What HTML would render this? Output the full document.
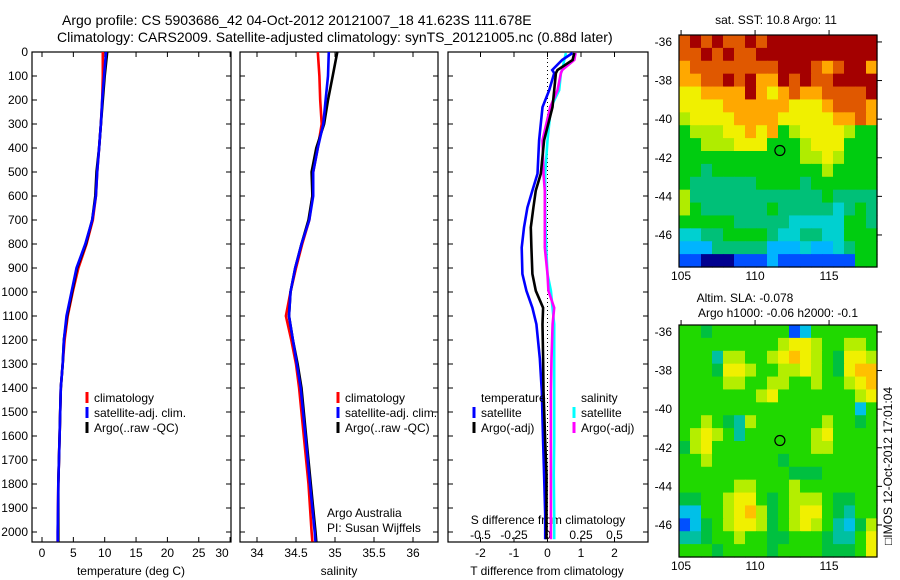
<!DOCTYPE html>
<html><head><meta charset="utf-8">
<style>
html,body{margin:0;padding:0;background:#fff;}
svg{display:block;font-family:"Liberation Sans",sans-serif;}
text{font-size:12px;fill:#000;}
</style></head>
<body>
<svg id="chart" width="900" height="580" viewBox="0 0 900 580" xmlns="http://www.w3.org/2000/svg">
<text x="62" y="25" text-anchor="start" style="font-size:14px">Argo profile: CS 5903686_42 04-Oct-2012 20121007_18 41.623S 111.678E</text>
<text x="57" y="42" text-anchor="start" style="font-size:14px">Climatology: CARS2009. Satellite-adjusted climatology: synTS_20121005.nc (0.88d later)</text>
<g id="g"></g>
</svg>
<script>
// ---- profile data ----
const depthLevels = [0,100,200,300,400,500,600,700,800,900,1000,1100,1200,1300,1400,1600,1800,2000,2040];
const tempClim = [9.7,9.7,9.6,9.4,9.1,8.8,8.6,8.1,7.1,5.8,4.9,4.1,3.6,3.3,3.0,2.8,2.6,2.5,2.5];
const tempSat  = [10.2,9.9,9.6,9.4,9.1,8.8,8.6,8.0,6.9,5.5,4.7,3.9,3.5,3.3,3.0,2.8,2.6,2.5,2.5];
const tempArgo = [10.4,10.0,9.7,9.4,9.1,8.7,8.5,8.0,7.0,5.6,4.8,4.0,3.5,3.3,3.0,2.8,2.6,2.6,2.6];
const salClim = [34.78,34.80,34.81,34.83,34.78,34.72,34.71,34.67,34.58,34.50,34.43,34.37,34.44,34.50,34.54,34.60,34.66,34.70,34.71];
const salSat  = [34.92,34.91,34.88,34.85,34.78,34.72,34.72,34.67,34.57,34.49,34.43,34.41,34.46,34.51,34.56,34.62,34.68,34.74,34.75];
const salArgo = [35.03,34.97,34.91,34.86,34.76,34.70,34.71,34.66,34.57,34.49,34.43,34.41,34.46,34.52,34.57,34.63,34.69,34.75,34.76];
const diffDepth = [4,33,75,88,159,230,368,507,577,648,731,815,925,995,1066,1134,1276,1414,1623,1762,1929,2030];
const tDiffSat  = [0.75,0.44,0.14,0.2,0.05,-0.15,-0.25,-0.3,-0.45,-0.6,-0.7,-0.77,-0.75,-0.63,-0.45,-0.33,-0.23,-0.17,-0.13,-0.1,-0.07,-0.07];
const tDiffArgo = [0.8,0.75,0.3,0.25,0.2,0.15,-0.1,-0.2,-0.35,-0.42,-0.5,-0.48,-0.45,-0.35,-0.13,-0.15,-0.13,-0.12,-0.07,-0.03,-0.03,-0.03];
const sDiffSat  = [0.137,0.125,0.11,0.1,0.087,0.025,0,-0.017,-0.017,-0.017,-0.015,-0.01,0.0,0.025,0.037,0.05,0.05,0.05,0.05,0.047,0.05,0.05];
const sDiffArgo = [0.21,0.2,0.11,0.1,0.075,0.02,-0.037,-0.03,-0.02,-0.02,-0.02,-0.02,0.0,0.007,0.05,0.038,0.03,0.025,0.025,0.025,0.025,0.025];
const depthTicks = [0,100,200,300,400,500,600,700,800,900,1000,1100,1200,1300,1400,1500,1600,1700,1800,1900,2000];
const tempTicks = [0,5,10,15,20,25,30];
const salTicks = [34,34.5,35,35.5,36];
const tDiffTicks = [-2,-1,0,1,2];
const sDiffTickLabels = ["-0.5","-0.25","0","0.25","0.5"];
const sDiffTicks = [-0.5,-0.25,0,0.25,0.5];
// ---- map data (digit codes) ----
const sstGrid = ["9a9a99a9aaaaaaaaaa","99a9a99aaaaaaaaaaa","899999999aaa989aa8","8899a9a88a9a99aaaa","778888a8789889999a","777788888877789998","677778888777778898","566677878567777655","556667775556777555","555555555556676555","554555555555565555","544444455554555555","644444444444454444","654444445444443454","555554444433333554","334455554334433555","222444442223223455","110001112111111155"];
const slaGrid = ["554555555512555555","555555555677655665","555366556787654776","555477655667654788","555566556655655678","555555567555555567","555555555555555525","556543655555565545","567653555555675555","467555555555665555","556555555455555555","555555555544455555","555556655565555555","445567754566654455","225567864567754355","124567764567653246","334556554455543357","555455554555544457"];
const lonTicks = [105,110,115];
const latTicks = [-36,-38,-40,-42,-44,-46];
const argoLon = 111.678, argoLat = -41.623;

const NS="http://www.w3.org/2000/svg";
const G=document.getElementById('g');
function mk(tag,attrs,parent){const e=document.createElementNS(NS,tag);for(const k in attrs)e.setAttribute(k,attrs[k]);(parent||G).appendChild(e);return e;}
function txt(x,y,s,anchor,parent){const t=mk('text',{x:x,y:y,'text-anchor':anchor||'middle'},parent);t.textContent=s;return t;}

const Y0=52, YS=0.24, PT=52, PB=542;
const yD=d=>Y0+d*YS;
const panels=[
 {name:'temperature-panel',x0:32,x1:231,fx:v=>42+v*6.27},
 {name:'salinity-panel',x0:240,x1:438,fx:v=>257+(v-34)*78},
 {name:'difference-panel',x0:448,x1:648,fx:v=>547.5+v*33.5}
];
const fS=v=>547.5+v*134;

panels.forEach((p,i)=>{
  const g=mk('g',{});
  
  
  const r=mk('rect',{x:p.x0,y:PT,width:p.x1-p.x0,height:PB-PT,fill:'#fff',stroke:'#000','stroke-width':1.2},g);
  
  
  depthTicks.forEach(d=>{
    const y=yD(d);
    mk('line',{x1:p.x0,x2:p.x0+5,y1:y,y2:y,stroke:'#000'},g);
    mk('line',{x1:p.x1-5,x2:p.x1,y1:y,y2:y,stroke:'#000'},g);
  });
});
depthTicks.forEach(d=>{const t=txt(28,yD(d)+4,String(d),'end');

});
function xticks(p,ticks,labels,shiftLast){
  ticks.forEach((v,k)=>{const x=p.fx(v);
    mk('line',{x1:x,x2:x,y1:PT,y2:PT+5,stroke:'#000'});
    mk('line',{x1:x,x2:x,y1:PB-5,y2:PB,stroke:'#000'});
    let lx=x; if(shiftLast&&k===ticks.length-1)lx=Math.min(x,p.x1-9);
    const t=txt(lx,557,labels[k]);
    
    
  });
}
xticks(panels[0],tempTicks,tempTicks.map(String),true);
xticks(panels[1],salTicks,salTicks.map(String),true);
xticks(panels[2],tDiffTicks,tDiffTicks.map(String),false);
let t;
t=txt(131,575,'temperature (deg C)');
t=txt(339,575,'salinity');
t=txt(547,575,'T difference from climatology');
t=txt(548,524,'S difference from climatology');
sDiffTicks.forEach((v,k)=>{const tt=txt(fS(v),539,sDiffTickLabels[k]);

});

const z=mk('line',{x1:fS(0),x2:fS(0),y1:PT+2,y2:PB,stroke:'#000','stroke-dasharray':'1,3'});



function series(vals,depths,fx,color,name){
  const pts=vals.map((v,k)=>fx(v).toFixed(1)+','+yD(depths[k]).toFixed(1)).join(' ');
  const l=mk('polyline',{points:pts,fill:'none',stroke:color,'stroke-width':2.6,'stroke-linejoin':'miter'});
  
  
}
series(tempClim,depthLevels,panels[0].fx,'#ff0000','temp-climatology-line');
series(tempArgo,depthLevels,panels[0].fx,'#000','temp-argo-line');
series(tempSat,depthLevels,panels[0].fx,'#0000ff','temp-satellite-line');
series(salClim,depthLevels,panels[1].fx,'#ff0000','sal-climatology-line');
series(salArgo,depthLevels,panels[1].fx,'#000','sal-argo-line');
series(salSat,depthLevels,panels[1].fx,'#0000ff','sal-satellite-line');
series(sDiffSat,diffDepth,fS,'#00ffff','s-diff-satellite-line');
series(sDiffArgo,diffDepth,fS,'#ff00ff','s-diff-argo-line');
series(tDiffSat,diffDepth,panels[2].fx,'#0000ff','t-diff-satellite-line');
series(tDiffArgo,diffDepth,panels[2].fx,'#000','t-diff-argo-line');

function legend(x,y,entries){
  entries.forEach((e,k)=>{const yy=y+k*15;
    const m=mk('line',{x1:x,x2:x,y1:yy-10,y2:yy+1,stroke:e[1],'stroke-width':3});
    
    
    const tt=txt(x+7,yy,e[0],'start');
    
    
  });
}
legend(87,402,[['climatology','#ff0000'],['satellite-adj. clim.','#0000ff'],['Argo(..raw -QC)','#000']]);
legend(338,402,[['climatology','#ff0000'],['satellite-adj. clim.','#0000ff'],['Argo(..raw -QC)','#000']]);
t=txt(481,402,'temperature','start');
t=txt(581,402,'salinity','start');
legend(474,417,[['satellite','#0000ff'],['Argo(-adj)','#000']]);
legend(574,417,[['satellite','#00ffff'],['Argo(-adj)','#ff00ff']]);
t=txt(327,517,'Argo Australia','start');
t=txt(327,532,'PI: Susan Wijffels','start');

const sstPal={'0':'#00008f','1':'#0050ff','2':'#00b4ff','3':'#00d0d0','4':'#00c078','5':'#00cc10','6':'#b0ec00','7':'#f0f000','8':'#ffa800','9':'#e05800','a':'#a40000'};
const slaPal={'1':'#0050ff','2':'#00c0e8','3':'#00c0a0','4':'#00c040','5':'#20d800','6':'#b4ee00','7':'#f0f000','8':'#ffc000'};
function map(name,top,grid,pal){
  const x0=679,x1=877,y1=top+232;
  const lonL=104.86,lonR=118.24,latT=-35.64,latB=-47.66;
  const fx=l=>x0+(l-lonL)/(lonR-lonL)*(x1-x0);
  const fy=l=>top+(l-latT)/(latB-latT)*(y1-top);
  const g=mk('g',{});
  
  
  const nr=grid.length,nc=grid[0].length,cw=(x1-x0)/nc,ch=(y1-top)/nr;
  grid.forEach((row,r)=>{for(let c=0;c<nc;c++){
    const cell=mk('rect',{x:(x0+c*cw).toFixed(2),y:(top+r*ch).toFixed(2),width:(cw+0.6).toFixed(2),height:(ch+0.6).toFixed(2),fill:pal[row[c]]},g);
    
    
  }});
  mk('rect',{x:x0,y:top,width:x1-x0,height:y1-top,fill:'none',stroke:'#000','stroke-width':1.2},g);
  lonTicks.forEach(l=>{const x=fx(l);
    mk('line',{x1:x,x2:x,y1:top-5,y2:top,stroke:'#000'},g);
    const tt=txt(x,y1+13,String(l),'middle',g);
    
    });
  latTicks.forEach(l=>{const y=fy(l);
    mk('line',{x1:x1,x2:x1+5,y1:y,y2:y,stroke:'#000'},g);
    const tt=txt(672,y+4,String(l),'end',g);
    
    });
  const c=mk('circle',{cx:fx(argoLon),cy:fy(argoLat),r:5,fill:'none',stroke:'#000','stroke-width':1.2},g);
  
  
}
map('sst-map',35,sstGrid,sstPal);
map('sla-map',325,slaGrid,slaPal);
t=txt(776,24,'sat. SST: 10.8 Argo: 11');
t=txt(745,302,'Altim. SLA: -0.078');
t=txt(778,317,'Argo h1000: -0.06 h2000: -0.1');
t=txt(0,0,'\u25A1IMOS 12-Oct-2012 17:01:04','middle');
t.setAttribute('transform','translate(892,466) rotate(-90)');


</script>
</body></html>
